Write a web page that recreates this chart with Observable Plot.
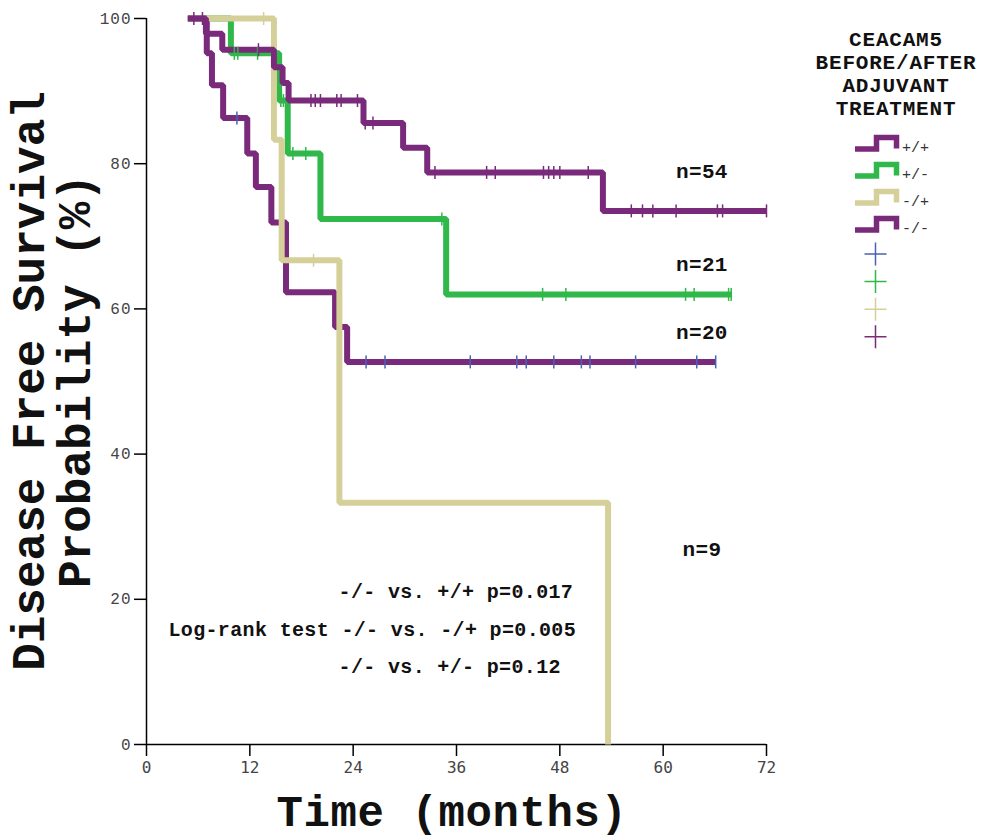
<!DOCTYPE html>
<html><head><meta charset="utf-8">
<script src="https://cdn.jsdelivr.net/npm/d3@7"></script>
<script src="https://cdn.jsdelivr.net/npm/@observablehq/plot@0.6"></script>
<style>
body{margin:0;background:#fff;}
#wrap{position:relative;width:982px;height:840px;overflow:hidden;background:#fff;}
#wrap > svg{position:absolute;left:0;top:0;}
</style></head><body><div id="wrap"></div>
<script>
// ---- axes ----
const xTicks = [0, 12, 24, 36, 48, 60, 72];
const yTicks = [0, 20, 40, 60, 80, 100];
const xTitle = "Time (months)";
const yTitleLines = ["Disease Free Survival", "Probability (%)"];

// ---- groups ----
const groups = ["+/+", "+/-", "-/+", "-/-"];
const lineColors = ["#7a2a7a", "#30b84a", "#d5d099", "#7a2a7a"];
const censorColors = ["#7a2a7a", "#30b84a", "#d5d099", "#4a62b4"];
const legendCrossColors = ["#4a62b4", "#30b84a", "#d5d099", "#7a2a7a"];
const legendTitle = ["CEACAM5", "BEFORE/AFTER", "ADJUVANT", "TREATMENT"];

// +/+ (n=54)
const ppTime = [4.8, 6.9, 8.8, 14.8, 15.8, 16.5, 25.2, 29.8, 32.6, 53.0, 72.0];
const ppSurv = [100, 97.9, 95.7, 93.3, 91.1, 88.7, 85.6, 82.2, 78.8, 73.5, 73.5];
const ppCensor = [5.5, 6.5, 13.0, 19.1, 19.6, 20.2, 22.1, 22.6, 24.5, 25.4, 26.3, 33.5, 39.5, 40.5, 46.1, 46.7, 47.3, 48.0, 51.3, 56.3, 57.6, 58.8, 61.5, 66.3, 66.9, 72.0];

// +/- (n=21)
const pmTime = [4.8, 9.8, 15.4, 16.4, 20.2, 34.8, 68.0];
const pmSurv = [100, 95.2, 88.7, 81.4, 72.4, 62.0, 62.0];
const pmCensor = [10.2, 10.6, 12.9, 15.6, 15.9, 17.0, 18.5, 34.3, 46.0, 48.7, 62.6, 63.6, 67.6, 67.9];

// -/+ (n=9)
const mpTime = [4.8, 14.8, 15.7, 22.4, 53.6];
const mpSurv = [100, 83.3, 66.7, 33.3, 0];
const mpCensor = [13.6, 19.4];

// -/- (n=20)
const mmTime = [4.8, 7.0, 7.6, 8.9, 11.7, 12.7, 14.5, 16.2, 21.9, 23.3, 66.1];
const mmSurv = [100, 95.2, 90.8, 86.3, 81.4, 76.8, 71.9, 62.3, 57.5, 52.7, 52.7];
const mmCensor = [10.5, 25.5, 27.7, 37.6, 43.0, 44.1, 47.3, 50.5, 51.5, 56.8, 63.9, 66.1];

// ---- annotations ----
const nLabels = ["n=54", "n=21", "n=20", "n=9"];
const nLabelT = [64.5, 64.5, 64.5, 64.5];
const nLabelS = [78.0, 65.2, 55.9, 26.0];
const logrankText = ["-/- vs. +/+ p=0.017", "Log-rank test -/- vs. -/+ p=0.005", "-/- vs. +/- p=0.12"];
const logrankT = [22.3, 2.55, 22.3];
const logrankS = [20.2, 15.0, 9.8];

// ---- build ----
function survAt(times, surv, t) {
  let s = surv[0];
  for (let i = 0; i < times.length; i++) if (times[i] <= t) s = surv[i];
  return s;
}
const series = [
  {g: 0, time: ppTime, surv: ppSurv, cens: ppCensor},
  {g: 1, time: pmTime, surv: pmSurv, cens: pmCensor},
  {g: 2, time: mpTime, surv: mpSurv, cens: mpCensor},
  {g: 3, time: mmTime, surv: mmSurv, cens: mmCensor}
];
const lineData = s => s.time.map((t, i) => ({t, s: s.surv[i]}));
const censData = s => s.cens.map(t => ({t, s: survAt(s.time, s.surv, t)}));
const vtick = {draw(ctx, size) { const r = Math.sqrt(size / Math.PI); ctx.moveTo(0, -r); ctx.lineTo(0, r); }};

const drawOrder = [1, 3, 2, 0];
const marks = [];
for (const k of drawOrder) {
  const s = series[k];
  marks.push(Plot.line(lineData(s), {x: "t", y: "s", curve: "step-after", stroke: lineColors[k], strokeWidth: 6, strokeLinejoin: "miter", strokeLinecap: "butt"}));
}
for (const k of drawOrder) {
  const s = series[k];
  marks.push(Plot.dot(censData(s), {x: "t", y: "s", symbol: vtick, r: 6.5, fill: "none", stroke: censorColors[k], strokeWidth: 1.5}));
}
const nRows = nLabels.map((label, i) => ({label, t: nLabelT[i], s: nLabelS[i]}));
const lrRows = logrankText.map((label, i) => ({label, t: logrankT[i], s: logrankS[i]}));

const chart = Plot.plot({
  width: 982, height: 840,
  marginLeft: 146, marginRight: 216, marginTop: 18, marginBottom: 96,
  style: {fontFamily: "'Liberation Mono', monospace", background: "transparent", overflow: "visible"},
  x: {domain: [0, 72]},
  y: {domain: [0, 100]},
  marks: [
    Plot.axisX({ticks: xTicks, tickSize: 12, tickPadding: 5, label: null, tickFormat: d => String(d), fontSize: 16, fontFamily: "'DejaVu Sans Mono', monospace", strokeWidth: 1.5}),
    Plot.axisY({ticks: yTicks, tickSize: 12, tickPadding: 3, label: null, tickFormat: d => String(d), fontSize: 16, fontFamily: "'Liberation Mono', monospace", strokeWidth: 1.5}),
    Plot.ruleX([0], {stroke: "#000", strokeWidth: 1.5}),
    Plot.ruleY([0], {stroke: "#000", strokeWidth: 1.5}),
    ...marks,
    Plot.text(nRows, {x: "t", y: "s", text: "label", textAnchor: "middle", lineAnchor: "bottom", fontFamily: "'Liberation Mono', monospace", fontWeight: "bold", fontSize: 21, fill: "#111"}),
    Plot.text(lrRows, {x: "t", y: "s", text: "label", textAnchor: "start", lineAnchor: "bottom", fontFamily: "'Liberation Mono', monospace", fontWeight: "bold", fontSize: 20, fill: "#111"})
  ]
});
const wrap = document.getElementById("wrap");
wrap.appendChild(chart);
chart.querySelectorAll('[aria-label="x-axis tick label"], [aria-label="y-axis tick label"]').forEach(g => g.setAttribute("fill", "#444"));
chart.querySelectorAll('[aria-label="y-axis tick label"] text').forEach(t => t.setAttribute("letter-spacing", "1"));
chart.querySelectorAll('[aria-label="text"] text').forEach(t => t.setAttribute("letter-spacing", "0.35"));

// ---- overlay: titles & legend ----
const ov = d3.select(wrap).append("svg").attr("width", 982).attr("height", 840)
  .style("font-family", "'Liberation Mono', monospace");
ov.append("text").attr("x", 452).attr("y", 826).attr("text-anchor", "middle")
  .attr("font-size", 44).attr("font-weight", "bold").attr("letter-spacing", "0.6").attr("fill", "#111").text(xTitle);
const yBase = [43.5, 90];
yTitleLines.forEach((line, i) => {
  ov.append("text").attr("transform", `translate(${yBase[i]},381) rotate(-90)`)
    .attr("text-anchor", "middle").attr("font-size", 46).attr("font-weight", "bold").attr("fill", "#111").text(line);
});
const ltBase = [46, 69, 92, 115];
legendTitle.forEach((line, i) => {
  ov.append("text").attr("x", 896).attr("y", ltBase[i]).attr("text-anchor", "middle")
    .attr("font-size", 21).attr("font-weight", "bold").attr("letter-spacing", "0.8").attr("fill", "#111").text(line);
});
groups.forEach((g, i) => {
  const b = 149 + i * 27;
  ov.append("path").attr("d", `M855,${b}H876.5V${b - 11.5}H896.5V${b - 0.5}`)
    .attr("fill", "none").attr("stroke", lineColors[i]).attr("stroke-width", 5.5).attr("stroke-linejoin", "miter");
  ov.append("text").attr("x", 902).attr("y", b + 3).attr("font-size", 15).attr("fill", "#333").text(g);
});
legendCrossColors.forEach((c, i) => {
  const cy = 254 + i * 27.6, cx = 875.5;
  ov.append("path").attr("d", `M${cx - 11},${cy}H${cx + 11}M${cx},${cy - 11.5}V${cy + 11.5}`)
    .attr("stroke", c).attr("stroke-width", 1.5).attr("fill", "none");
});
</script></body></html>
